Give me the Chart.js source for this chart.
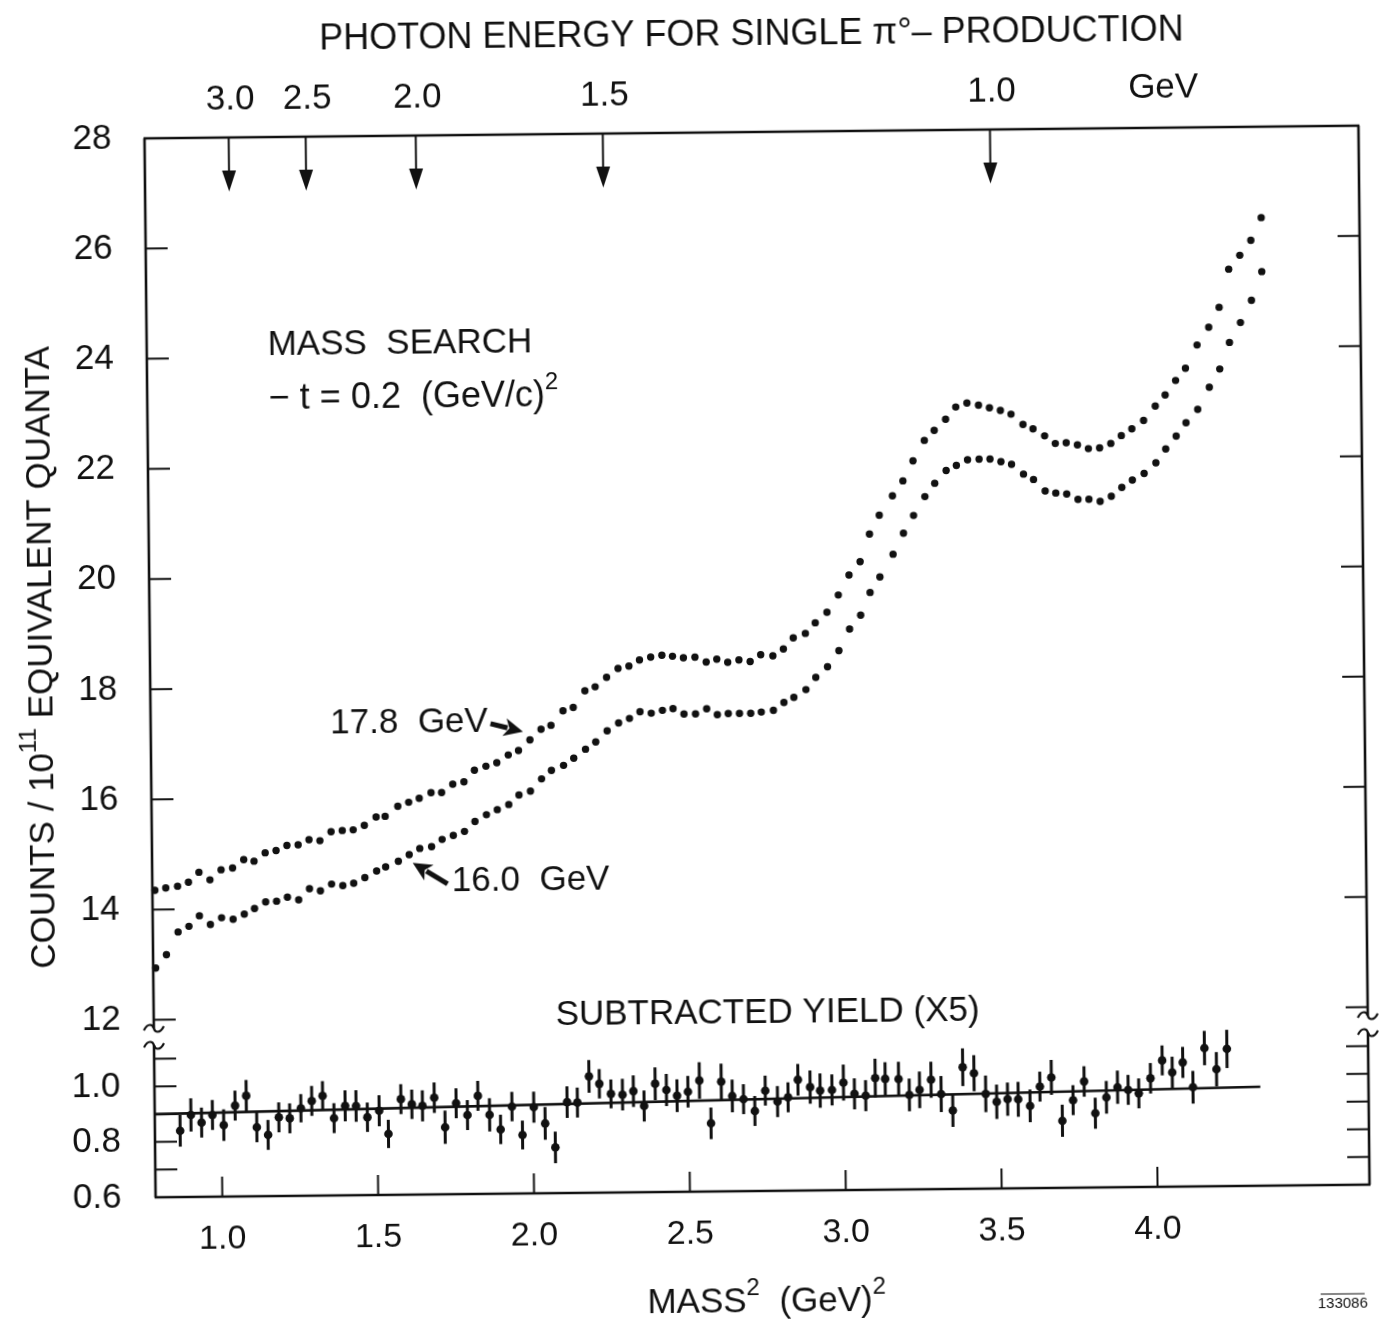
<!DOCTYPE html>
<html>
<head>
<meta charset="utf-8">
<title>Mass search - photon energy for single pi0 production</title>
<style>
  html, body { margin: 0; padding: 0; background: #fff; overflow: hidden; }
  /* the scanned figure sits slightly tilted on the page */
  #wrap { width: 1381px; height: 1326px; transform: rotate(-0.6deg); transform-origin: 757px 660px; }
  canvas { display: block; background: #fff; }
</style>
<script src="https://cdn.jsdelivr.net/npm/chart.js@4.4.0/dist/chart.umd.min.js"></script>
</head>
<body>
<div id="wrap"><canvas id="massChart" width="1381" height="1326"></canvas></div>
<script>
// ===== Mass search, -t = 0.2 (GeV/c)^2 =====
const ink = '#111';
const FONT = '"Liberation Sans", Arial, sans-serif';

// Top scale: photon energy for single pi0 production, arrow positions in MASS^2 units
const photonEnergies = ['3.0', '2.5', '2.0', '1.5', '1.0'];
const photonMassSq   = [1.056, 1.303, 1.656, 2.256, 3.498];

// Axis ticks
const massTicks = [1.0, 1.5, 2.0, 2.5, 3.0, 3.5, 4.0];
const countTicks = [12, 14, 16, 18, 20, 22, 24, 26, 28];
const yieldTicks = [0.6, 0.7, 0.8, 0.9, 1.0, 1.1];
const yieldTickLabels = ['0.6', '', '0.8', '', '1.0', ''];

// MASS^2 (GeV)^2 of each measured point
const massSq = [
  0.759, 0.794, 0.829, 0.867, 0.902, 0.936, 0.971, 1.007, 1.044, 1.080,
  1.113, 1.149, 1.184, 1.219, 1.255, 1.290, 1.325, 1.361, 1.397, 1.432,
  1.468, 1.506, 1.535, 1.576, 1.611, 1.645, 1.683, 1.717, 1.753, 1.789,
  1.823, 1.860, 1.895, 1.932, 1.965, 2.002, 2.038, 2.070, 2.109, 2.142,
  2.180, 2.213, 2.250, 2.287, 2.322, 2.356, 2.392, 2.428, 2.462, 2.497,
  2.534, 2.570, 2.604, 2.639, 2.675, 2.711, 2.745, 2.784, 2.818, 2.850,
  2.889, 2.921, 2.959, 2.996, 3.031, 3.067, 3.098, 3.130, 3.173, 3.207,
  3.240, 3.277, 3.309, 3.346, 3.379, 3.415, 3.452, 3.487, 3.522, 3.556,
  3.594, 3.626, 3.663, 3.697, 3.732, 3.768, 3.803, 3.839, 3.875, 3.909,
  3.943, 3.981, 4.019, 4.051, 4.085, 4.117, 4.155, 4.193, 4.227, 4.259,
  4.295, 4.331, 4.365
];

// Counts / 10^11 equivalent quanta, 17.8 GeV beam
const counts178 = [
  14.39, 14.35, 14.39, 14.42, 14.49, 14.67, 14.53, 14.71, 14.74, 14.89,
  14.86, 15.01, 15.05, 15.14, 15.15, 15.24, 15.22, 15.38, 15.40, 15.41,
  15.49, 15.64, 15.65, 15.83, 15.90, 15.97, 16.07, 16.07, 16.22, 16.26,
  16.47, 16.54, 16.60, 16.74, 16.82, 17.01, 17.20, 17.27, 17.53, 17.59,
  17.89, 17.96, 18.13, 18.29, 18.33, 18.44, 18.49, 18.52, 18.50, 18.47,
  18.48, 18.39, 18.44, 18.38, 18.42, 18.39, 18.51, 18.49, 18.61, 18.81,
  18.89, 19.08, 19.27, 19.58, 19.94, 20.18, 20.68, 21.02, 21.37, 21.64,
  22.00, 22.37, 22.55, 22.75, 22.97, 23.04, 23.00, 22.95, 22.90, 22.83,
  22.64, 22.56, 22.43, 22.29, 22.30, 22.26, 22.19, 22.20, 22.28, 22.42,
  22.54, 22.69, 22.95, 23.15, 23.41, 23.63, 24.05, 24.37, 24.73, 25.42,
  25.67, 25.94, 26.35
];

// Counts / 10^11 equivalent quanta, 16.0 GeV beam
const counts160 = [
  null,  12.94, 13.18, 13.59, 13.69, 13.88, 13.72, 13.84, 13.81, 13.90,
  14.00, 14.12, 14.13, 14.20, 14.15, 14.35, 14.31, 14.43, 14.40, 14.44,
  14.54, 14.66, 14.73, 14.83, 14.95, 15.06, 15.09, 15.22, 15.29, 15.36,
  15.54, 15.66, 15.75, 15.84, 16.01, 16.08, 16.30, 16.45, 16.54, 16.67,
  16.83, 16.96, 17.16, 17.30, 17.38, 17.50, 17.47, 17.52, 17.55, 17.45,
  17.45, 17.54, 17.43, 17.45, 17.45, 17.45, 17.47, 17.50, 17.64, 17.73,
  17.87, 18.09, 18.28, 18.57, 18.96, 19.21, 19.62, 19.90, 20.31, 20.69,
  21.01, 21.35, 21.59, 21.82, 21.91, 22.01, 22.02, 22.02, 21.97, 21.92,
  21.74, 21.64, 21.43, 21.39, 21.37, 21.27, 21.27, 21.23, 21.32, 21.48,
  21.61, 21.73, 21.92, 22.17, 22.40, 22.64, 22.88, 23.28, 23.61, 24.09,
  24.45, 24.85, 25.37
];

// Subtracted yield (x5): same mass points, 4th to 99th
const yieldMassSq = massSq.slice(3, 99);
const yieldVals = [
  0.839, 0.896, 0.868, 0.895, 0.858, 0.928, 0.963, 0.849, 0.821, 0.884,
  0.880, 0.916, 0.942, 0.960, 0.879, 0.923, 0.922, 0.881, 0.904, 0.820,
  0.945, 0.926, 0.920, 0.949, 0.842, 0.928, 0.885, 0.954, 0.885, 0.832,
  0.914, 0.811, 0.911, 0.852, 0.765, 0.928, 0.926, 1.020, 0.993, 0.956,
  0.953, 0.965, 0.911, 0.991, 0.968, 0.947, 0.961, 1.001, 0.846, 0.996,
  0.944, 0.932, 0.889, 0.962, 0.922, 0.937, 1.000, 0.973, 0.960, 0.962,
  0.988, 0.947, 0.940, 1.003, 1.000, 0.999, 0.941, 0.959, 0.995, 0.943,
  0.883, 1.039, 1.017, 0.942, 0.913, 0.922, 0.921, 0.897, 0.966, 0.999,
  0.842, 0.916, 0.983, 0.868, 0.925, 0.961, 0.951, 0.938, 0.992, 1.056,
  1.012, 1.048, 0.958, 1.099, 1.022, 1.095
];
const yieldErr = [
  0.057, 0.060, 0.054, 0.054, 0.057, 0.054, 0.057, 0.054, 0.054, 0.054,
  0.054, 0.051, 0.054, 0.053, 0.054, 0.056, 0.057, 0.053, 0.056, 0.051,
  0.054, 0.053, 0.056, 0.055, 0.060, 0.054, 0.054, 0.054, 0.060, 0.053,
  0.053, 0.052, 0.056, 0.059, 0.057, 0.057, 0.054, 0.059, 0.053, 0.052,
  0.057, 0.057, 0.056, 0.059, 0.058, 0.059, 0.057, 0.066, 0.057, 0.065,
  0.059, 0.054, 0.054, 0.054, 0.056, 0.054, 0.057, 0.060, 0.062, 0.056,
  0.065, 0.056, 0.056, 0.070, 0.060, 0.062, 0.059, 0.066, 0.065, 0.065,
  0.059, 0.068, 0.065, 0.066, 0.062, 0.060, 0.063, 0.059, 0.054, 0.063,
  0.058, 0.054, 0.055, 0.056, 0.059, 0.060, 0.054, 0.054, 0.055, 0.054,
  0.057, 0.056, 0.059, 0.062, 0.062, 0.069
];

// straight-line fit through the subtracted yield
const fitMassSq = [0.786, 4.333];
const fitYield  = [0.900, 0.957];

// text helper: parts = [[text, isSuperscript], ...]
function richText(ctx, parts, x, y, align, size){
  const big = size || 35, small = Math.round(big * 0.68);
  let w = 0;
  for (const [t, sup] of parts){ ctx.font = `${sup ? small : big}px ${FONT}`; w += ctx.measureText(t).width; }
  let cx = align === 'center' ? x - w / 2 : x;
  ctx.textAlign = 'left'; ctx.textBaseline = 'middle';
  for (const [t, sup] of parts){
    ctx.font = `${sup ? small : big}px ${FONT}`;
    ctx.fillText(t, cx, sup ? y - big * 0.38 : y);
    cx += ctx.measureText(t).width;
  }
}

function fatArrow(ctx, x0, y0, x1, y1){
  const ang = Math.atan2(y1 - y0, x1 - x0), head = 19, hw = 9;
  const bx = x1 - head * Math.cos(ang), by = y1 - head * Math.sin(ang);
  ctx.lineWidth = 5; ctx.beginPath(); ctx.moveTo(x0, y0); ctx.lineTo(bx + 3 * Math.cos(ang), by + 3 * Math.sin(ang)); ctx.stroke();
  ctx.beginPath();
  ctx.moveTo(x1, y1);
  ctx.lineTo(bx + hw * Math.sin(ang), by - hw * Math.cos(ang));
  ctx.lineTo(bx + 5 * Math.cos(ang), by + 5 * Math.sin(ang));
  ctx.lineTo(bx - hw * Math.sin(ang), by + hw * Math.cos(ang));
  ctx.closePath(); ctx.fill();
}

// Error bars for the subtracted yield
const errorBars = {
  id: 'errorBars',
  beforeDatasetsDraw(chart){
    const { ctx, scales: { x, y2 } } = chart;
    ctx.save(); ctx.strokeStyle = ink; ctx.lineWidth = 3;
    yieldVals.forEach((v, i) => {
      const px = x.getPixelForValue(yieldMassSq[i]);
      ctx.beginPath();
      ctx.moveTo(px, y2.getPixelForValue(v - yieldErr[i]));
      ctx.lineTo(px, y2.getPixelForValue(v + yieldErr[i]));
      ctx.stroke();
    });
    ctx.restore();
  }
};

// Frame, inward ticks, axis break, photon-energy arrows and lettering
const frame = {
  id: 'frame',
  afterDraw(chart){
    const { ctx, chartArea: a, scales: { x, y, y2 } } = chart;
    const cut = y.bottom;
    ctx.save();
    ctx.strokeStyle = ink; ctx.fillStyle = ink; ctx.lineCap = 'butt';
    const seg = (x0, y0, x1, y1, w) => { ctx.lineWidth = w; ctx.beginPath(); ctx.moveTo(x0, y0); ctx.lineTo(x1, y1); ctx.stroke(); };
    const squiggle = (cx, cy) => {
      ctx.lineWidth = 2.2; ctx.beginPath();
      ctx.moveTo(cx - 10, cy + 2);
      ctx.bezierCurveTo(cx - 6, cy - 6, cx - 1, cy - 4, cx, cy);
      ctx.bezierCurveTo(cx + 1, cy + 4, cx + 6, cy + 6, cx + 10, cy - 2);
      ctx.stroke();
    };

    // box
    seg(a.left - 1, a.top, a.right + 1, a.top, 2.6);
    seg(a.left - 1, a.bottom, a.right + 1, a.bottom, 2.6);
    [a.left, a.right].forEach(sx => {
      seg(sx, a.top, sx, cut - 8, 2.6);
      seg(sx, cut + 9, sx, a.bottom, 2.6);
      squiggle(sx, cut - 8); squiggle(sx, cut + 9);
    });

    // inward ticks
    countTicks.forEach(v => {
      if (v >= 28) return;
      const py = y.getPixelForValue(v);
      seg(a.left, py, a.left + 22, py, 2); seg(a.right - 22, py, a.right, py, 2);
    });
    yieldTicks.forEach(v => {
      if (v <= 0.6) return;
      const py = y2.getPixelForValue(v);
      seg(a.left, py, a.left + 22, py, 2); seg(a.right - 22, py, a.right, py, 2);
    });
    massTicks.forEach(v => { const px = x.getPixelForValue(v); seg(px, a.bottom, px, a.bottom - 20, 2); });

    // photon energy arrows
    ctx.font = `35px ${FONT}`; ctx.textAlign = 'center'; ctx.textBaseline = 'middle';
    photonMassSq.forEach((m, i) => {
      const px = x.getPixelForValue(m);
      seg(px, a.top, px, a.top + 36, 2);
      ctx.beginPath(); ctx.moveTo(px - 7, a.top + 33); ctx.lineTo(px + 7, a.top + 33); ctx.lineTo(px, a.top + 54); ctx.closePath(); ctx.fill();
      ctx.font = `35px ${FONT}`; ctx.textAlign = 'center';
      ctx.fillText(photonEnergies[i], px + 2, 94);
    });
    ctx.fillText('GeV', x.getPixelForValue(4.055), 92);

    // titles
    ctx.font = `36px ${FONT}`; ctx.textAlign = 'center';
    ctx.fillText('PHOTON ENERGY FOR SINGLE \u03C0\u00B0\u2013 PRODUCTION', 758, 35);
    richText(ctx, [['MASS', false], ['2', true], ['  (GeV)', false], ['2', true]], 760, 1302, 'center');
    ctx.save(); ctx.translate(42, 650); ctx.rotate(-Math.PI / 2);
    richText(ctx, [['COUNTS / 10', false], ['11', true], [' EQUIVALENT QUANTA', false]], 0, 0, 'center', 35);
    ctx.restore();

    // annotations in the plot (data units)
    richText(ctx, [['MASS  SEARCH', false]], x.getPixelForValue(1.174), y.getPixelForValue(24.21), 'left');
    richText(ctx, [['\u2212 t = 0.2  (GeV/c)', false], ['2', true]], x.getPixelForValue(1.176), y.getPixelForValue(23.25), 'left', 36);
    richText(ctx, [['17.8  GeV', false]], x.getPixelForValue(1.362), y.getPixelForValue(17.33), 'left');
    fatArrow(ctx, x.getPixelForValue(1.876), y.getPixelForValue(17.31), x.getPixelForValue(1.980), y.getPixelForValue(17.16));
    richText(ctx, [['16.0  GeV', false]], x.getPixelForValue(1.747), y.getPixelForValue(14.46), 'left');
    fatArrow(ctx, x.getPixelForValue(1.733), y.getPixelForValue(14.41), x.getPixelForValue(1.622), y.getPixelForValue(14.80));
    richText(ctx, [['SUBTRACTED YIELD (X5)', false]], x.getPixelForValue(2.755), y.getPixelForValue(12.0), 'center');

    // plate number
    ctx.font = `15px ${FONT}`; ctx.textAlign = 'center'; ctx.textBaseline = 'middle';
    ctx.fillText('133086', 1336, 1310);
    seg(1314, 1300, 1358, 1300, 1.2);
    ctx.restore();
  }
};

const dotStyle = { pointRadius: 3.7, pointBorderWidth: 0, pointBackgroundColor: ink, pointBorderColor: ink, clip: false };

new Chart(document.getElementById('massChart').getContext('2d'), {
  type: 'scatter',
  data: {
    datasets: [
      { label: '17.8 GeV', yAxisID: 'y', ...dotStyle,
        data: massSq.map((m, i) => ({ x: m, y: counts178[i] })) },
      { label: '16.0 GeV', yAxisID: 'y', ...dotStyle,
        data: massSq.map((m, i) => ({ x: m, y: counts160[i] })).filter(p => p.y !== null) },
      { label: 'Subtracted yield (x5)', yAxisID: 'y2', pointRadius: 4.3, pointBorderWidth: 0,
        pointBackgroundColor: ink, data: yieldMassSq.map((m, i) => ({ x: m, y: yieldVals[i] })) },
      { label: 'Fit', type: 'line', yAxisID: 'y2', showLine: true, borderColor: ink, borderWidth: 2.6,
        pointRadius: 0, data: fitMassSq.map((m, i) => ({ x: m, y: fitYield[i] })) }
    ]
  },
  options: {
    responsive: false, animation: false, devicePixelRatio: 1, events: [],
    layout: { padding: { top: 132, right: 17, bottom: 0, left: 0 } },
    plugins: { legend: { display: false }, tooltip: { enabled: false } },
    scales: {
      x: {
        type: 'linear', position: 'bottom', min: 0.786, max: 4.68,
        grid: { display: false, drawTicks: false }, border: { display: false },
        afterBuildTicks: s => { s.ticks = massTicks.map(v => ({ value: v })); },
        afterFit: s => { s.height = 135; },
        ticks: { color: ink, font: { family: FONT, size: 34 }, padding: 22, maxRotation: 0, autoSkip: false,
                 callback: v => Number(v).toFixed(1) }
      },
      y: {
        type: 'linear', position: 'left', stack: 'panels', stackWeight: 898, weight: 1,
        min: 11.7, max: 28,
        grid: { display: false, drawTicks: false }, border: { display: false },
        afterBuildTicks: s => { s.ticks = countTicks.map(v => ({ value: v })); },
        afterFit: s => { s.width = 150; },
        ticks: { color: ink, font: { family: FONT, size: 35 }, padding: 33, callback: v => String(v) }
      },
      y2: {
        type: 'linear', position: 'left', stack: 'panels', stackWeight: 161, weight: 0,
        min: 0.6, max: 1.181,
        grid: { display: false, drawTicks: false }, border: { display: false },
        afterBuildTicks: s => { s.ticks = yieldTicks.map(v => ({ value: v })); },
        afterFit: s => { s.width = 150; },
        ticks: { color: ink, font: { family: FONT, size: 35 }, padding: 34,
                 callback: (v, i) => yieldTickLabels[i] }
      }
    }
  },
  plugins: [errorBars, frame]
});
</script>
</body>
</html>
